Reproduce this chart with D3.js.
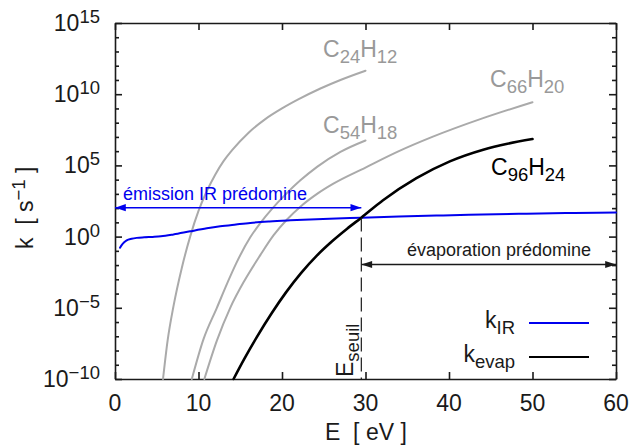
<!DOCTYPE html>
<html>
<head>
<meta charset="utf-8">
<title>k(E)</title>
<script src="https://d3js.org/d3.v7.min.js"></script>
<style>
  body { margin: 0; background: #fff; }
  text { font-family: "Liberation Sans", Arial, sans-serif; }
  .curve { fill: none; stroke-linejoin: round; stroke-linecap: round; }
</style>
</head>
<body>
<svg width="634" height="448"></svg>
<script>
// log10(k) versus E (eV)
const kirE   = [0.6, 0.8, 1.1, 1.4, 2.0, 2.6, 3.5, 4.5, 5.5, 7, 9, 11, 12.6, 14.5, 16.2, 18.5, 21, 25.7, 29.5, 34, 39.3, 44, 49.3, 55, 60];
const kirLog = [-0.78, -0.6, -0.4, -0.26, -0.15, -0.09, -0.05, -0.02, 0.02, 0.15, 0.37, 0.58, 0.72, 0.85, 0.96, 1.06, 1.14, 1.26, 1.33, 1.41, 1.49, 1.55, 1.61, 1.66, 1.70];

const c24E   = [5.75, 6.3, 7, 8, 9, 10, 11, 12, 13, 14, 16, 18, 20, 22, 24.6, 27, 30];
const c24Log = [-10, -7.3, -4.9, -2.2, 0.0, 1.8, 3.2, 4.35, 5.3, 6.05, 7.3, 8.25, 9.0, 9.65, 10.4, 11.0, 11.65];

const c54E   = [9.2, 10.6, 12.2, 13.5, 14.5, 16.2, 17.4, 18.8, 20.4, 22.2, 24.2, 27, 30];
const c54Log = [-10, -7.2, -5, -3.2, -1.9, -0.05, 0.95, 1.95, 2.95, 3.95, 4.9, 5.95, 6.75];

const c66E   = [10.7, 12.2, 13.8, 15.5, 17.4, 19.0, 20.6, 22.2, 24.2, 26.1, 30, 34, 38, 44, 50];
const c66Log = [-10, -7.3, -5, -3.1, -1.3, 0.1, 1.2, 2.1, 3.0, 3.7, 4.85, 6.0, 7.0, 8.3, 9.44];

const c96E   = [14.2, 15.5, 17, 18.8, 20.5, 22.3, 24.2, 26, 27.8, 29.5, 32.1, 36.1, 40.1, 44.1, 47, 50];
const c96Log = [-10, -8.57, -7.04, -5.35, -3.9, -2.55, -1.32, -0.33, 0.55, 1.33, 2.55, 4.1, 5.28, 6.1, 6.52, 6.85];

const xTicks = [0, 10, 20, 30, 40, 50, 60];
const yTicks = [-10, -5, 0, 5, 10, 15];   // exponents
const eSeuil = 29.5;
const irArrowLog = 2.03;
const evapArrowLog = -1.96;

const svg = d3.select("svg");
const margin = { top: 23, right: 18, bottom: 69, left: 115 };
const width = +svg.attr("width"), height = +svg.attr("height");
const x0 = margin.left, x1 = width - margin.right;
const y0 = height - margin.bottom, y1 = margin.top;

const x = d3.scaleLinear().domain([0, 60]).range([x0, x1]);
const y = d3.scaleLinear().domain([-10, 15]).range([y0, y1]);

const ink = "#1a1a1a";
const gray = "#aaaaaa";
const grayText = "#999999";
const blue = "#0000ee";

// axes with inward ticks on all four sides
const minors = d3.range(-10, 16).filter(d => d % 5 !== 0);
function styleAxis(g) {
  g.selectAll("path, line").attr("stroke", ink).attr("stroke-width", 1.6);
  g.selectAll("text").remove();
}
svg.append("g").attr("transform", `translate(0,${y0})`)
  .call(d3.axisBottom(x).tickValues(xTicks).tickSizeInner(-7).tickSizeOuter(0)).call(styleAxis);
svg.append("g").attr("transform", `translate(0,${y1})`)
  .call(d3.axisTop(x).tickValues(xTicks).tickSizeInner(-7).tickSizeOuter(0)).call(styleAxis);
svg.append("g").attr("transform", `translate(${x0},0)`)
  .call(d3.axisLeft(y).tickValues(yTicks).tickSizeInner(-7).tickSizeOuter(0)).call(styleAxis);
svg.append("g").attr("transform", `translate(${x1},0)`)
  .call(d3.axisRight(y).tickValues(yTicks).tickSizeInner(-7).tickSizeOuter(0)).call(styleAxis);
svg.append("g").attr("transform", `translate(${x0},0)`)
  .call(d3.axisLeft(y).tickValues(minors).tickSizeInner(-4).tickSizeOuter(0)).call(styleAxis)
  .select(".domain").remove();
svg.append("g").attr("transform", `translate(${x1},0)`)
  .call(d3.axisRight(y).tickValues(minors).tickSizeInner(-4).tickSizeOuter(0)).call(styleAxis)
  .select(".domain").remove();

// tick labels
svg.append("g").selectAll("text").data(xTicks).join("text")
  .attr("x", d => x(d)).attr("y", y0 + 31.5)
  .attr("text-anchor", "middle").attr("font-size", 23).attr("fill", ink)
  .text(d => d);

const yl = svg.append("g").selectAll("text").data(yTicks).join("text")
  .attr("x", x0 - 15).attr("y", d => y(d) + 8)
  .attr("text-anchor", "end").attr("font-size", 23).attr("fill", ink);
yl.append("tspan").text("10");
yl.append("tspan").attr("dy", -8).attr("font-size", 18.5)
  .text(d => d < 0 ? "\u2212" + (-d) : d);

// axis titles
const xt = svg.append("text").attr("x", 325).attr("y", 440)
  .attr("font-size", 23).attr("fill", ink).attr("xml:space", "preserve");
xt.text("E  [ eV ]");

const yt = svg.append("text").attr("transform", "translate(33,249) rotate(-90)")
  .attr("font-size", 23).attr("fill", ink).attr("xml:space", "preserve");
yt.append("tspan").text("k  [ s");
yt.append("tspan").attr("dy", -8).attr("font-size", 18.5).text("\u22121");
yt.append("tspan").attr("dy", 8).text(" ]");

// curves
const line = d3.line().x(d => x(d[0])).y(d => y(d[1])).curve(d3.curveMonotoneX);
const series = [
  { e: c24E, k: c24Log, color: gray, w: 2 },
  { e: c54E, k: c54Log, color: gray, w: 2 },
  { e: c66E, k: c66Log, color: gray, w: 2 },
  { e: kirE, k: kirLog, color: blue, w: 2 },
  { e: c96E, k: c96Log, color: "#000", w: 2.6 }
];
svg.append("g").selectAll("path").data(series).join("path")
  .attr("class", "curve")
  .attr("d", s => line(s.e.map((e, i) => [e, s.k[i]])))
  .attr("stroke", s => s.color).attr("stroke-width", s => s.w);

// molecule labels
function formula(px, py, parts, color) {
  const t = svg.append("text").attr("x", px).attr("y", py)
    .attr("font-size", 23).attr("fill", color);
  t.append("tspan").text(parts[0]);
  t.append("tspan").attr("dy", 6).attr("font-size", 18.5).text(parts[1]);
  t.append("tspan").attr("dy", -6).text(parts[2]);
  t.append("tspan").attr("dy", 6).attr("font-size", 18.5).text(parts[3]);
}
formula(323, 57, ["C", "24", "H", "12"], grayText);
formula(323, 133, ["C", "54", "H", "18"], grayText);
formula(490, 87, ["C", "66", "H", "20"], grayText);
formula(491, 175, ["C", "96", "H", "24"], "#000");

// arrow markers
const defs = svg.append("defs");
function marker(id, color) {
  defs.append("marker").attr("id", id)
    .attr("viewBox", "0 -5 12 10").attr("refX", 12).attr("refY", 0)
    .attr("markerUnits", "userSpaceOnUse")
    .attr("markerWidth", 12).attr("markerHeight", 9).attr("orient", "auto-start-reverse")
    .append("path").attr("d", "M0,-4L12,0L0,4Z").attr("fill", color);
}
marker("ab", blue);
marker("ak", ink);

// IR dominated region
svg.append("line")
  .attr("x1", x(0)).attr("x2", x(eSeuil))
  .attr("y1", y(irArrowLog)).attr("y2", y(irArrowLog))
  .attr("stroke", blue).attr("stroke-width", 1.4)
  .attr("marker-start", "url(#ab)").attr("marker-end", "url(#ab)");
svg.append("text").attr("x", 123).attr("y", 199.5)
  .attr("font-size", 18).attr("fill", blue).text("émission IR prédomine");

// evaporation dominated region
svg.append("line")
  .attr("x1", x(eSeuil)).attr("x2", x(60))
  .attr("y1", y(evapArrowLog)).attr("y2", y(evapArrowLog))
  .attr("stroke", ink).attr("stroke-width", 1.4)
  .attr("marker-start", "url(#ak)").attr("marker-end", "url(#ak)");
svg.append("text").attr("x", 499).attr("y", 256)
  .attr("text-anchor", "middle")
  .attr("font-size", 18).attr("fill", ink).text("évaporation prédomine");

// threshold
svg.append("line")
  .attr("x1", x(eSeuil)).attr("x2", x(eSeuil))
  .attr("y1", y(1.35)).attr("y2", y0)
  .attr("stroke", ink).attr("stroke-width", 1.2).attr("stroke-dasharray", "14,6");
const es = svg.append("text").attr("transform", "translate(353,377) rotate(-90)")
  .attr("font-size", 23).attr("fill", ink);
es.append("tspan").text("E");
es.append("tspan").attr("dy", 6).attr("font-size", 18.5).text("seuil");

// legend
const legend = [
  { main: "k", sub: "IR", color: blue, y: 323 },
  { main: "k", sub: "evap", color: "#000", y: 357 }
];
const lg = svg.append("g").selectAll("g").data(legend).join("g");
const lt = lg.append("text").attr("x", 515).attr("y", d => d.y + 5)
  .attr("text-anchor", "end").attr("font-size", 23).attr("fill", ink);
lt.append("tspan").text(d => d.main);
lt.append("tspan").attr("dy", 6).attr("font-size", 18.5).text(d => d.sub);
lg.append("line").attr("x1", 529).attr("x2", 589)
  .attr("y1", d => d.y).attr("y2", d => d.y)
  .attr("stroke", d => d.color).attr("stroke-width", 2);
</script>
</body>
</html>
